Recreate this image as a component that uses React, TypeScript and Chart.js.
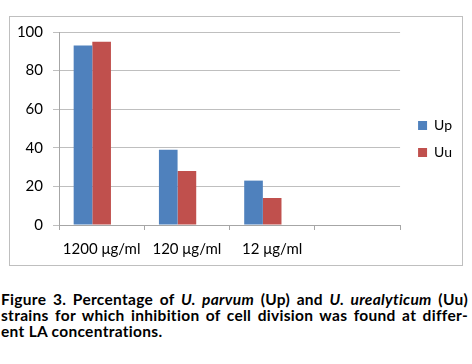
import React, { useEffect, useRef } from "react";
import { Chart, registerables } from "chart.js";

Chart.register(...registerables);

const categories = ["1200 μg/ml", "120 μg/ml", "12 μg/ml", ""];
const upValues = [93, 39, 23, null];
const uuValues = [95, 28, 14, null];
const blankValues = [null, null, null, null];
const yTicks = [0, 20, 40, 60, 80, 100];

export default function App() {
  const ref = useRef<HTMLCanvasElement | null>(null);
  useEffect(() => {
    if (!ref.current) return;
    const legendShift = {
      id: "legendShift",
      afterLayout(chart: any) {
        if (chart.legend) {
          chart.legend.left += 5;
          chart.legend.right += 5;
        }
      },
    };
    const chart = new Chart(ref.current, {
      type: "bar",
      data: {
        labels: categories,
        datasets: [
          { label: "Up", data: upValues, backgroundColor: "#4F81BD", borderWidth: 0 },
          { label: "Uu", data: uuValues, backgroundColor: "#C0504D", borderWidth: 0 },
          { label: "", data: blankValues, backgroundColor: "#9BBB59", borderWidth: 0 },
        ],
      },
      plugins: [legendShift],
      options: {
        animation: false,
        responsive: false,
        maintainAspectRatio: false,
        layout: { padding: { top: 0, right: 5, bottom: 0, left: 0 } },
        datasets: { bar: { categoryPercentage: 0.656, barPercentage: 1 } },
        plugins: {
          tooltip: { enabled: false },
          legend: {
            position: "right",
            labels: {
              boxWidth: 9,
              boxHeight: 9,
              padding: 13,
              color: "#000",
              font: { family: "Lato", size: 14 },
              filter: (item: any) => item.text !== "",
            },
          },
        },
        scales: {
          x: {
            offset: true,
            grid: {
              offset: true,
              drawOnChartArea: false,
              drawTicks: true,
              tickLength: 5,
              color: "#a6a6a6",
            },
            border: { color: "#a6a6a6" },
            ticks: {
              color: "#000",
              padding: 10,
              maxRotation: 0,
              minRotation: 0,
              autoSkip: false,
              font: { family: "Lato", size: 15 },
            },
            afterFit: (s: any) => { s.height = 40; },
          },
          y: {
            min: 0,
            max: 100,
            afterBuildTicks: (s: any) => { s.ticks = yTicks.map((v) => ({ value: v })); },
            grid: { color: "#bfbfbf", tickLength: 6, drawTicks: true },
            border: { color: "#a6a6a6" },
            ticks: { color: "#000", padding: 10, font: { family: "Lato", size: 15 } },
            afterFit: (s: any) => { s.width = 49; },
          },
        },
      } as any,
    });
    return () => chart.destroy();
  }, []);

  const lineStyle: React.CSSProperties = {
    textAlign: "justify",
    textAlignLast: "justify" as any,
    whiteSpace: "nowrap",
  };

  return (
    <div style={{ position: "absolute", left: 0, top: 0, width: 472, height: 364, background: "#fff" }}>
      <div
        style={{
          position: "absolute",
          left: 9,
          top: 16,
          width: 452,
          height: 248,
          border: "1px solid #bfbfbf",
        }}
      >
        <canvas
          ref={ref}
          width={452}
          height={252}
          style={{ display: "block", position: "absolute", left: 0, top: -4 }}
        />
      </div>
      <div
        style={{
          position: "absolute",
          left: 1,
          top: 291,
          width: 467,
          fontFamily: "Lato",
          fontWeight: "bold",
          fontSize: 15.5,
          letterSpacing: "0.3px",
          lineHeight: "16px",
          color: "#000",
        }}
      >
        <div style={lineStyle}>
          Figure 3. Percentage of <i>U. parvum</i> (Up) and <i>U. urealyticum</i> (Uu)
        </div>
        <div style={{ ...lineStyle, wordSpacing: "-2px" }}>
          strains for which inhibition of cell division was found at differ-
        </div>
        <div>ent LA concentrations.</div>
      </div>
    </div>
  );
}
